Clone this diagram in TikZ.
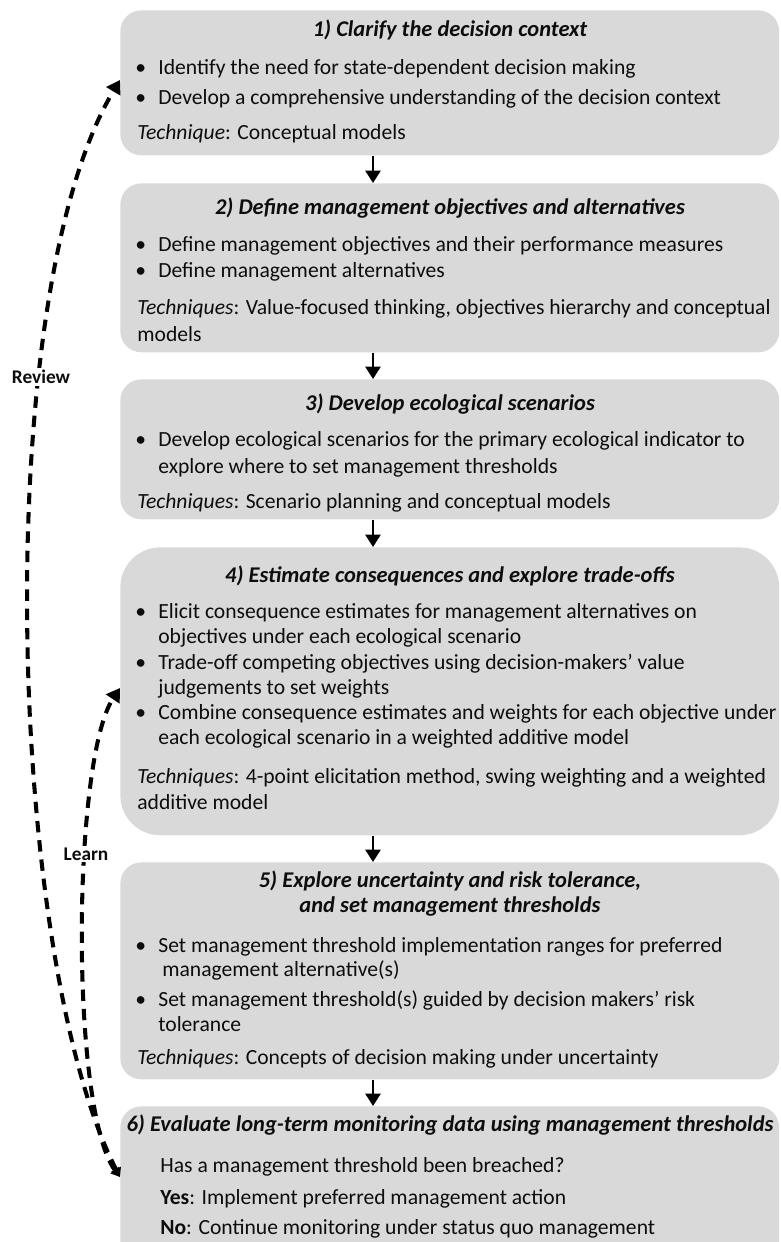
\documentclass[tikz,border=0pt]{standalone}
\usepackage{fontspec}
\setmainfont{Carlito}
\usetikzlibrary{arrows.meta,calc}
\definecolor{stagegray}{HTML}{D9D9D9}
\definecolor{inkgray}{HTML}{0D0D0D}
\newcommand{\bul}{\llap{\makebox[0.46cm][l]{\textbullet}}}
\tikzset{
  stage/.style={fill=stagegray, rounded corners=0.42cm, minimum width=13.18cm,
    anchor=north west, inner sep=0pt},
  stagehead/.style={font=\fontsize{12.8}{14.4}\selectfont\bfseries\itshape,
    text=inkgray, anchor=base, inner sep=0pt},
  txt/.style={font=\fontsize{12.3}{14.4}\selectfont, text=inkgray,
    anchor=base west, inner sep=0pt},
  flow/.style={line width=1.4pt, -{Triangle[width=8.5pt,length=7pt]}},
  loopback/.style={line width=2.3pt, dash pattern=on 6.5pt off 4.5pt,
    {Triangle[width=6pt,length=5pt]}-{Triangle[width=9pt,length=7.5pt]}},
  looplabel/.style={font=\fontsize{11}{13}\selectfont\bfseries, text=inkgray,
    fill=white, inner sep=1pt}
}
\begin{document}
\begin{tikzpicture}[x=0.02cm,y=-0.02cm]
\useasboundingbox (0,0) rectangle (781,1242);
% stage boxes
\node[stage, minimum height=2.9cm] (b1) at (120,10) {};
\node[stage, minimum height=3.38cm] (b2) at (120,183) {};
\node[stage, minimum height=2.8cm] (b3) at (120,379) {};
\node[stage, minimum height=5.76cm, rounded corners=0.8cm] (b4) at (120,547) {};
\node[stage, minimum height=4.34cm] (b5) at (120,862) {};
\node[stage, minimum height=3.4cm] (b6) at (120,1106) {};
% step 1
\node[stagehead] (b1h) at (450,36) {1) Clarify the decision context};
\node[txt] (b1a) at (158,74) {\bul Identify the need for state-dependent decision making};
\node[txt] (b1b) at (158,104) {\bul Develop a comprehensive understanding of the decision context};
\node[txt] (b1c) at (137,139) {\textit{Technique}: Conceptual models};
% step 2
\node[stagehead] (b2h) at (450,214) {2) Define management objectives and alternatives};
\node[txt] (b2a) at (158,251) {\bul Define management objectives and their performance measures};
\node[txt] (b2b) at (158,277) {\bul Define management alternatives};
\node[txt] (b2c) at (137,314) {\textit{Techniques}: Value-focused thinking, objectives hierarchy and conceptual};
\node[txt] (b2d) at (137,341) {models};
% step 3
\node[stagehead] (b3h) at (450,410) {3) Develop ecological scenarios};
\node[txt] (b3a) at (158,446) {\bul Develop ecological scenarios for the primary ecological indicator to};
\node[txt] (b3b) at (158,473) {explore where to set management thresholds};
\node[txt] (b3c) at (137,508) {\textit{Techniques}: Scenario planning and conceptual models};
% step 4
\node[stagehead] (b4h) at (450,582) {4) Estimate consequences and explore trade-offs};
\node[txt] (b4a) at (158,618) {\bul Elicit consequence estimates for management alternatives on};
\node[txt] (b4b) at (158,643) {objectives under each ecological scenario};
\node[txt] (b4c) at (158,669) {\bul Trade-off competing objectives using decision-makers’ value};
\node[txt] (b4d) at (158,694) {judgements to set weights};
\node[txt] (b4e) at (158,719) {\bul Combine consequence estimates and weights for each objective under};
\node[txt] (b4f) at (158,744) {each ecological scenario in a weighted additive model};
\node[txt] (b4g) at (137,783) {\textit{Techniques}: 4-point elicitation method, swing weighting and a weighted};
\node[txt] (b4i) at (137,809) {additive model};
% step 5
\node[stagehead] (b5h) at (450,887) {5) Explore uncertainty and risk tolerance,};
\node[stagehead] (b5i) at (450,912) {and set management thresholds};
\node[txt] (b5a) at (158,952) {\bul Set management threshold implementation ranges for preferred};
\node[txt] (b5b) at (162,976) {management alternative(s)};
\node[txt] (b5c) at (158,1006) {\bul Set management threshold(s) guided by decision makers’ risk};
\node[txt] (b5d) at (158,1031) {tolerance};
\node[txt] (b5e) at (137,1064) {\textit{Techniques}: Concepts of decision making under uncertainty};
% step 6
\node[stagehead] (b6h) at (450,1131) {6) Evaluate long-term monitoring data using management thresholds};
\node[txt] (b6a) at (160,1172) {Has a management threshold been breached?};
\node[txt] (b6b) at (160,1204) {\textbf{Yes}: Implement preferred management action};
\node[txt] (b6c) at (160,1234) {\textbf{No}: Continue monitoring under status quo management};
% arrows between steps
\coordinate (ar) at (373,0);
\draw[flow] (b1.south -| ar) -- (b2.north -| ar);
\draw[flow] (b2.south -| ar) -- (b3.north -| ar);
\draw[flow] (b3.south -| ar) -- (b4.north -| ar);
\draw[flow] (b4.south -| ar) -- (b5.north -| ar);
\draw[flow] (b5.south -| ar) -- (b6.north -| ar);
% review and learn loops
\coordinate (fb) at ($(b6.north west)+(0,71)$);
\coordinate (rvend) at ($(b1.north west)+(0,70)$);
\coordinate (lnend) at ($(b4.north west)+(0,141)$);
\draw[loopback] (fb) .. controls (8,960) and (-12,300) .. (rvend);
\draw[loopback] (fb) .. controls (70,1110) and (72,760) .. (lnend);
\node[looplabel] (rv) at (41,377) {Review};
\node[looplabel] (ln) at (86,854) {Learn};
\end{tikzpicture}
\end{document}
